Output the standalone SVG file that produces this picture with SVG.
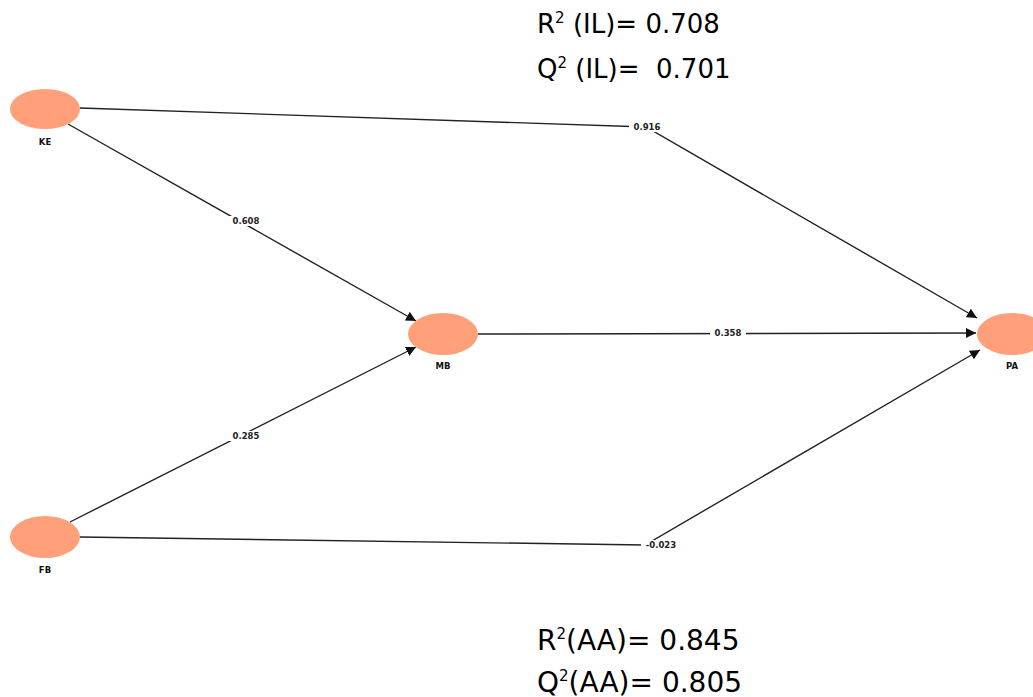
<svg xmlns="http://www.w3.org/2000/svg" width="1033" height="697" viewBox="0 0 1033 697">
  <style>
    .node ellipse { fill: #FFA07A; }
    .node text { font-family: "DejaVu Sans", "Liberation Sans", sans-serif; font-size: 8.5px; font-weight: bold; fill: #111; text-anchor: middle; }
    .edge { fill: none; stroke: #222; stroke-width: 1.4; }
    .wlabel rect { fill: #fff; }
    .wlabel text { font-family: "DejaVu Sans", "Liberation Sans", sans-serif; font-size: 8.5px; font-weight: bold; fill: #222; text-anchor: middle; }
    .stat { font-family: "DejaVu Sans", "Liberation Sans", sans-serif; font-size: 26px; fill: #000; white-space: pre; }
    .stat.big { font-size: 28px; }
    .sup { font-size: 15px; }
  </style>
  <defs>
    <marker id="arrow" viewBox="0 0 10 10" refX="10" refY="5" markerWidth="10" markerHeight="10" markerUnits="userSpaceOnUse" orient="auto">
      <path d="M0,0 L10,5 L0,10 Z" fill="#111"/>
    </marker>
  </defs>
  <rect width="1033" height="697" fill="#fff"/>

  <!-- path connectors -->
  <g id="connectors">
    <polyline class="edge" points="80,108 646,127 977,318" marker-end="url(#arrow)"/>
    <line class="edge" x1="68" y1="124" x2="416" y2="321" marker-end="url(#arrow)"/>
    <line class="edge" x1="70" y1="522" x2="416" y2="347" marker-end="url(#arrow)"/>
    <line class="edge" x1="478" y1="334" x2="976" y2="333" marker-end="url(#arrow)"/>
    <polyline class="edge" points="80,537 645,545 980,350" marker-end="url(#arrow)"/>
  </g>

  <!-- path coefficients -->
  <g id="weights">
    <g class="wlabel"><rect x="629" y="122" width="36" height="10"/><text x="647" y="130">0.916</text></g>
    <g class="wlabel"><rect x="228" y="216" width="36" height="10"/><text x="246" y="224">0.608</text></g>
    <g class="wlabel"><rect x="228" y="431" width="36" height="10"/><text x="246" y="439">0.285</text></g>
    <g class="wlabel"><rect x="710" y="328" width="36" height="10"/><text x="728" y="336">0.358</text></g>
    <g class="wlabel"><rect x="641" y="540" width="40" height="10"/><text x="661" y="548">-0.023</text></g>
  </g>

  <!-- constructs -->
  <g id="KE" class="node">
    <ellipse cx="45" cy="109" rx="35" ry="20"/>
    <text x="45" y="145">KE</text>
  </g>
  <g id="FB" class="node">
    <ellipse cx="45" cy="537" rx="35" ry="21"/>
    <text x="45" y="573">FB</text>
  </g>
  <g id="MB" class="node">
    <ellipse cx="443" cy="334" rx="35" ry="21"/>
    <text x="443" y="369">MB</text>
  </g>
  <g id="PA" class="node">
    <ellipse cx="1012" cy="334" rx="35" ry="21"/>
    <text x="1012" y="369">PA</text>
  </g>

  <!-- model fit statistics -->
  <g id="stats">
    <text class="stat" x="537" y="33">R<tspan class="sup" dy="-10">2</tspan><tspan dy="10"> (IL)= 0.708</tspan></text>
    <text class="stat" x="537" y="78">Q<tspan class="sup" dy="-10">2</tspan><tspan dy="10"> (IL)=  0.701</tspan></text>
    <text class="stat big" x="537" y="650">R<tspan class="sup" dy="-11">2</tspan><tspan dy="11">(AA)= 0.845</tspan></text>
    <text class="stat big" x="537" y="692">Q<tspan class="sup" dy="-11">2</tspan><tspan dy="11">(AA)= 0.805</tspan></text>
  </g>
</svg>
